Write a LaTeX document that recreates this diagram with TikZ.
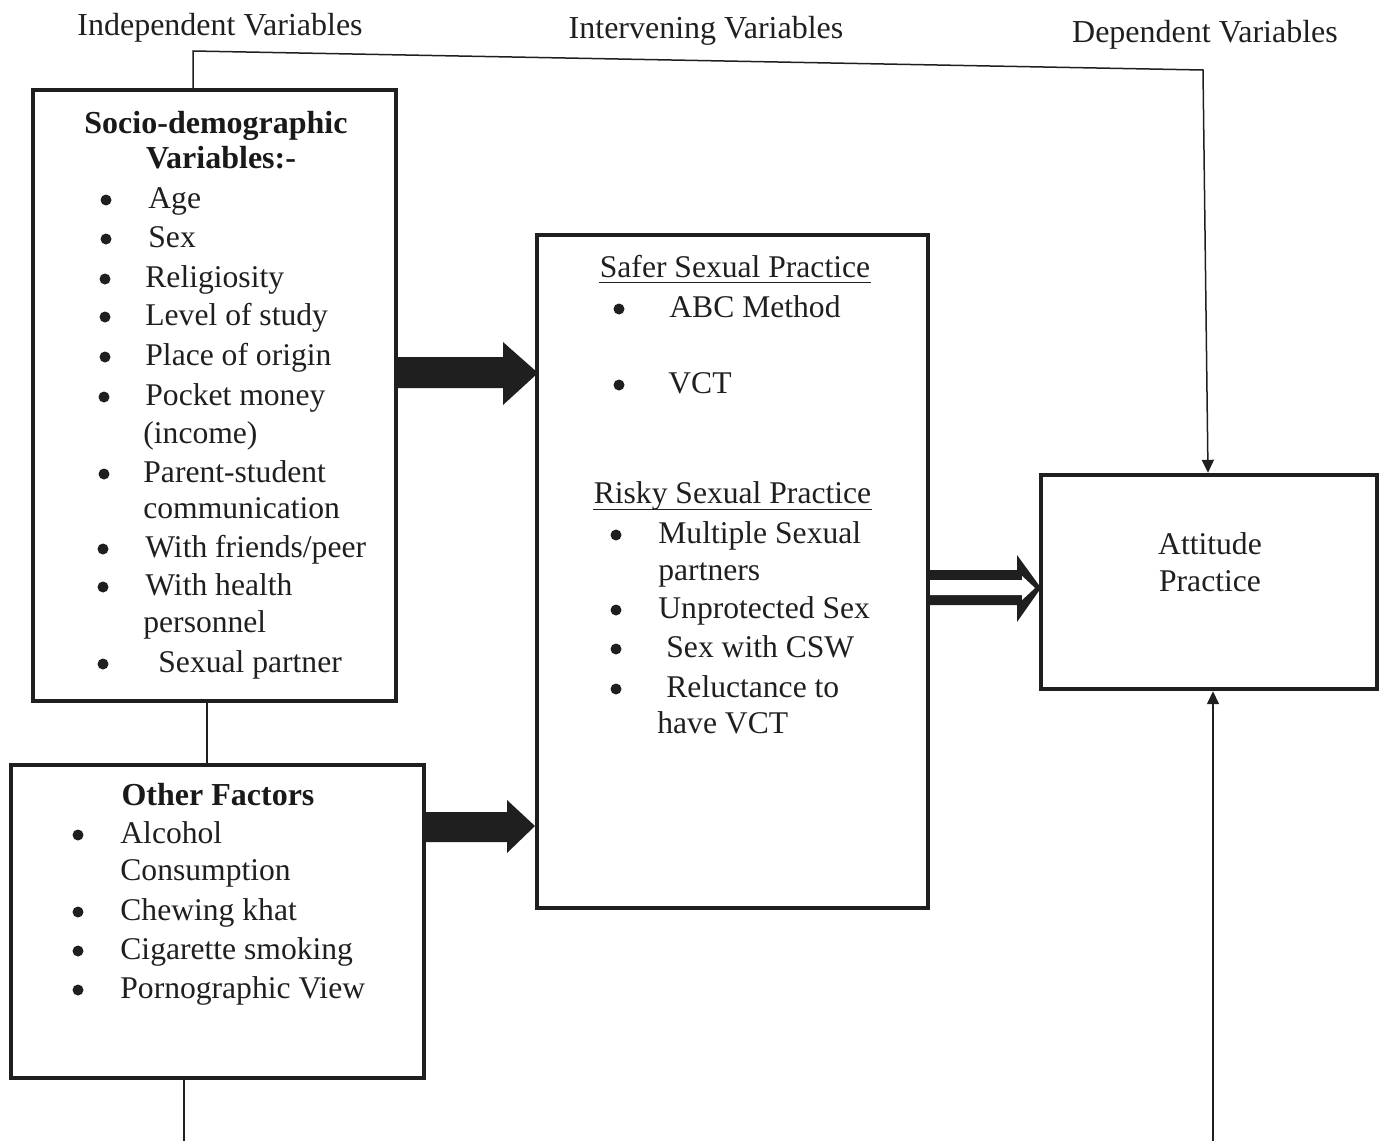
\documentclass[tikz,border=0pt]{standalone}
\usepackage{fontspec}
\setmainfont{Liberation Serif}
\usetikzlibrary{arrows.meta}
\begin{document}
\begin{tikzpicture}[x=0.5pt,y=-0.5pt,
  box/.style={draw=black!88, line width=2.2pt, rectangle, inner sep=0pt},
  txt/.style={anchor=base west, inner sep=0pt, text=black!88, font=\fontsize{15.8}{18}\selectfont},
  ctxt/.style={txt, anchor=base},
  hdr/.style={anchor=base, inner sep=0pt, text=black!88, font=\fontsize{16}{18}\selectfont},
  ttl/.style={anchor=base, inner sep=0pt, text=black!90, font=\bfseries\fontsize{16}{18}\selectfont},
  conn/.style={draw=black!88, line width=0.75pt},
  tip/.style={-{Triangle[length=6.5pt,width=6pt]}},
  blk/.style={fill=black!88},
  bul/.style={fill=black!88}
]
\useasboundingbox (0,0) rectangle (1383,1141);

% headers
\node[hdr] (hind) at (220,35) {Independent Variables};
\node[hdr] (hint) at (706,38) {Intervening Variables};
\node[hdr] (hdep) at (1205,42) {Dependent Variables};

% boxes
\node[box, minimum width=181.5pt, minimum height=305.5pt] (socio) at (214.5,395.5) {};
\node[box, minimum width=206.5pt, minimum height=156.5pt] (other) at (217.5,921.5) {};
\node[box, minimum width=195.5pt, minimum height=336.5pt] (mid) at (732.5,571.5) {};
\node[box, minimum width=168pt, minimum height=107pt] (att) at (1209,582) {};

% socio-demographic text
\node[ttl] (s0) at (216,133) {Socio-demographic};
\node[ttl] (s00) at (221,168) {Variables:-};
\node[txt] (s1) at (148,208) {Age};
\node[txt] (s2) at (148,247) {Sex};
\node[txt] (s3) at (145,287) {Religiosity};
\node[txt] (s4) at (145,325) {Level of study};
\node[txt] (s5) at (145,365) {Place of origin};
\node[txt] (s6) at (145,405) {Pocket money};
\node[txt] (s6b) at (143,443) {(income)};
\node[txt] (s7) at (143,482) {Parent-student};
\node[txt] (s7b) at (143,518) {communication};
\node[txt] (s8) at (145,557) {With friends/peer};
\node[txt] (s9) at (145,595) {With health};
\node[txt] (s9b) at (143,632) {personnel};
\node[txt] (s10) at (158,672) {Sexual partner};
\foreach \y/\x in {208/106,247/106,287/105,325/105,365/105,405/104,482/104,557/103,595/103,672/103}
  \fill[bul] (\x,\y-8) circle (5.5);

% other factors text
\node[ttl] (o0) at (218,805) {Other Factors};
\node[txt] (o1) at (120,843) {Alcohol};
\node[txt] (o1b) at (120,880) {Consumption};
\node[txt] (o2) at (120,920) {Chewing khat};
\node[txt] (o3) at (120,959) {Cigarette smoking};
\node[txt] (o4) at (120,998) {Pornographic View};
\foreach \y in {843,920,959,998}
  \fill[bul] (78,\y-8) circle (5.5);

% middle box text
\node[ctxt] (m0) at (735,277) {Safer Sexual Practice};
\draw[black!88, line width=0.6pt] ([yshift=-2.6pt]m0.base west) -- ([yshift=-2.6pt]m0.base east);
\node[txt] (m1) at (669,317) {ABC Method};
\node[txt] (m2) at (668,393) {VCT};
\node[ctxt] (r0) at (732.5,503) {Risky Sexual Practice};
\draw[black!88, line width=0.6pt] ([yshift=-3.2pt]r0.base west) -- ([yshift=-3.2pt]r0.base east);
\node[txt] (r1) at (658,543) {Multiple Sexual};
\node[txt] (r1b) at (658,580) {partners};
\node[txt] (r2) at (658,618) {Unprotected Sex};
\node[txt] (r3) at (666,657) {Sex with CSW};
\node[txt] (r4) at (666,697) {Reluctance to};
\node[txt] (r4b) at (657,733) {have VCT};
\foreach \y in {317,393}
  \fill[bul] (619,\y-8) circle (5.5);
\foreach \y in {543,618,657,697}
  \fill[bul] (616,\y-8) circle (5.5);

% attitude box text
\node[ctxt] (a1) at (1210,554) {Attitude};
\node[ctxt] (a2) at (1210,591) {Practice};

% thin connectors
\coordinate (tl) at (193,51);
\coordinate (tr) at (1203,70);
\coordinate (bl) at (184,1141);
\coordinate (br) at (1213,1141);
\draw[conn] (socio.south -| 207,0) -- (other.north -| 207,0);
\draw[conn, tip] (socio.north -| tl) -- (tl) -- (tr) -- (att.north -| 1208,0);
\draw[conn] (other.south -| bl) -- (bl);
\draw[conn, tip] (br) -- (att.south -| br);

% block arrows
\fill[blk] (396,357) -- (503,357) -- (503,342) -- (538,373) -- (503,405) -- (503,388) -- (396,388) -- cycle;
\fill[blk] (424,812) -- (507,812) -- (507,800) -- (535,826) -- (507,853) -- (507,842) -- (424,842) -- cycle;
\fill[blk] (928,570) -- (1017,570) -- (1017,555) -- (1041,588) -- (1017,622) -- (1017,605) -- (928,605) -- cycle;
\fill[white] (930,580) -- (1022,580) -- (1022,576) -- (1035,588) -- (1022,600) -- (1022,595) -- (930,595) -- cycle;
\end{tikzpicture}
\end{document}
